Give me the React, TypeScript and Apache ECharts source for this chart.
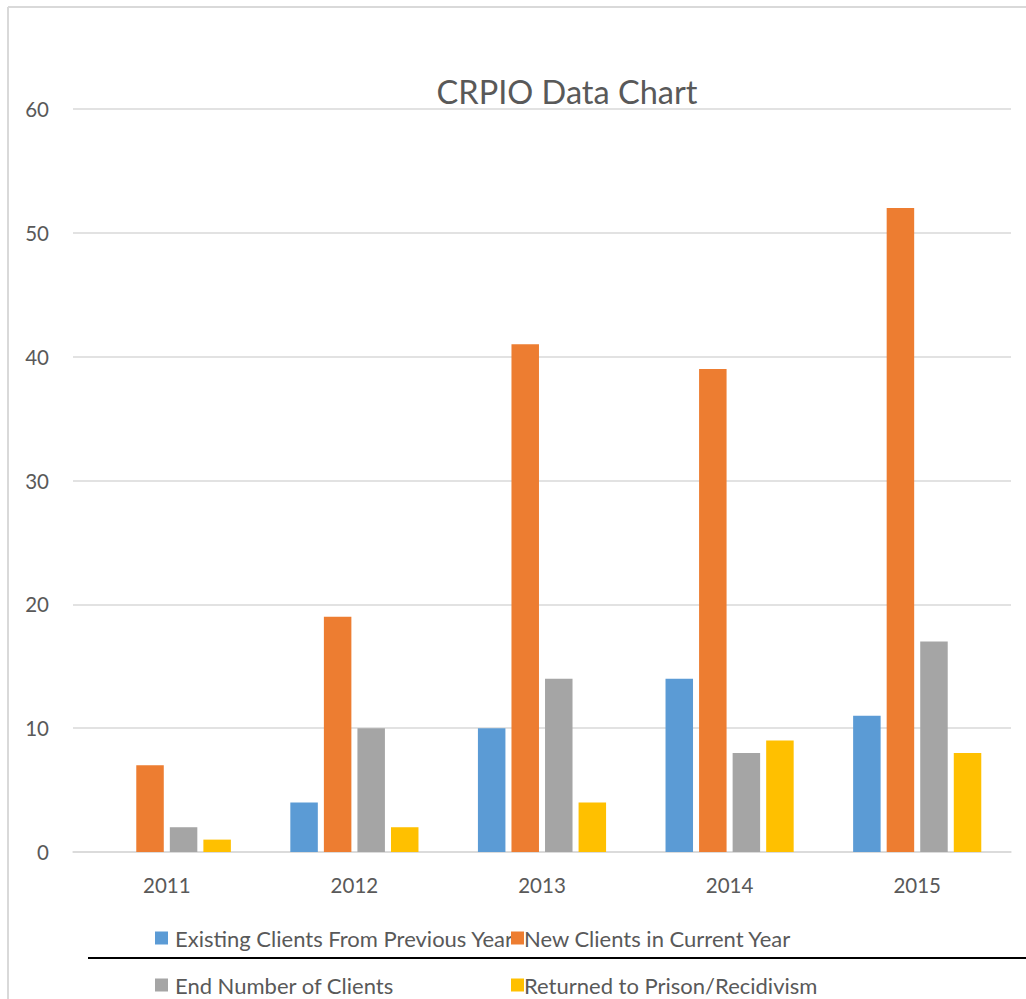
import React, { useEffect, useRef } from "react";
import * as echarts from "echarts";

const years = ["2011", "2012", "2013", "2014", "2015"];
const existingClients = [0, 4, 10, 14, 11];
const newClients = [7, 19, 41, 39, 52];
const endClients = [2, 10, 14, 8, 17];
const returned = [1, 2, 4, 9, 8];
const seriesNames = [
  "Existing Clients From Previous Year",
  "New Clients in Current Year",
  "End Number of Clients",
  "Returned to Prison/Recidivism",
];
const colors = ["#5b9bd5", "#ed7d31", "#a5a5a5", "#ffc000"];

const FONT = "Lato, 'Open Sans', sans-serif";
const TXT = "#595959";

export default function App() {
  const ref = useRef<HTMLDivElement>(null);
  useEffect(() => {
    if (!ref.current) return;
    const chart = echarts.init(ref.current, undefined, { renderer: "svg" });
    const values = [existingClients, newClients, endClients, returned];
    const legendPos = [
      { left: 155, top: 927, pad: [0, 0, 0, 2] },
      { left: 511, top: 927, pad: [0, 0, 0, -5] },
      { left: 155, top: 974, pad: [0, 0, 0, 2] },
      { left: 511, top: 974, pad: [0, 0, 0, -5] },
    ];
    chart.setOption({
      animation: false,
      color: colors,
      textStyle: { fontFamily: FONT },
      grid: { left: 73, right: 15, top: 109, bottom: 147, containLabel: false },
      legend: seriesNames.map((n, i) => ({
        data: [n],
        left: legendPos[i].left,
        top: legendPos[i].top,
        icon: "rect",
        itemWidth: 13,
        itemHeight: 13,
        padding: 0,
        selectedMode: false,
        textStyle: {
          color: TXT,
          fontSize: 22,
          fontFamily: FONT,
          lineHeight: 22,
          padding: legendPos[i].pad,
        },
      })),
      xAxis: {
        type: "category",
        data: years,
        axisLine: { show: true, lineStyle: { color: "#d9d9d9", width: 1.5 } },
        axisTick: { show: false },
        axisLabel: { color: TXT, fontSize: 20.5, margin: 22, fontFamily: FONT },
      },
      yAxis: {
        type: "value",
        min: 0,
        max: 60,
        interval: 10,
        axisLine: { show: false },
        axisTick: { show: false },
        splitLine: { lineStyle: { color: "#d9d9d9", width: 1.5 } },
        axisLabel: { color: TXT, fontSize: 20.5, margin: 24, fontFamily: FONT },
      },
      series: seriesNames.map((n, i) => ({
        name: n,
        type: "bar",
        data: values[i],
        barWidth: 27.5,
        barGap: "22%",
        itemStyle: { color: colors[i] },
      })),
      graphic: [
        {
          type: "text",
          x: 567,
          y: 91,
          style: {
            text: "CRPIO Data Chart",
            fill: TXT,
            font: `32.5px ${FONT}`,
            textAlign: "center",
            textVerticalAlign: "middle",
          },
        },
        {
          type: "line",
          shape: { x1: 8, y1: 7, x2: 1026, y2: 7 },
          style: { stroke: "#d9d9d9", lineWidth: 2 },
        },
        {
          type: "line",
          shape: { x1: 8, y1: 7, x2: 8, y2: 999 },
          style: { stroke: "#d9d9d9", lineWidth: 2 },
        },
        {
          type: "line",
          shape: { x1: 88, y1: 958, x2: 1026, y2: 958 },
          style: { stroke: "#000000", lineWidth: 2 },
        },
      ],
    });
    return () => chart.dispose();
  }, []);
  return (
    <div
      ref={ref}
      style={{ position: "absolute", left: 0, top: 0, width: 1026, height: 999, background: "#fff" }}
    />
  );
}
